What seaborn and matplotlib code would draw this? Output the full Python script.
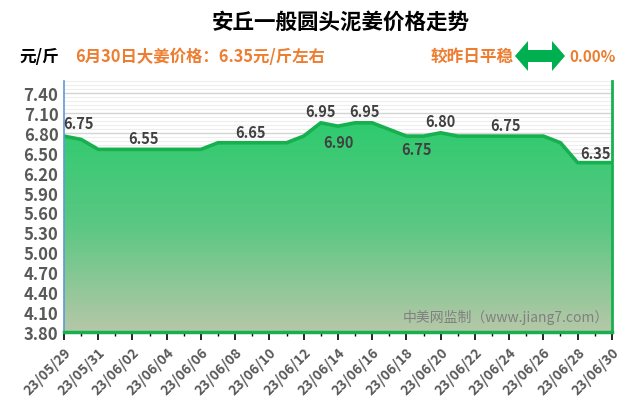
import numpy as np
import pandas as pd
import matplotlib
matplotlib.use("Agg")
import matplotlib.pyplot as plt
import seaborn as sns
from matplotlib.colors import LinearSegmentedColormap
from matplotlib.patches import Polygon

# dane: cena dzienna 23/05/29 - 23/06/30
dates = pd.date_range("2023-05-29", "2023-06-30", freq="D")
prices = [6.75, 6.70, 6.55, 6.55, 6.55, 6.55, 6.55, 6.55, 6.55, 6.65,
          6.65, 6.65, 6.65, 6.65, 6.75, 6.95, 6.90, 6.95, 6.95, 6.85,
          6.75, 6.75, 6.80, 6.75, 6.75, 6.75, 6.75, 6.75, 6.75, 6.65,
          6.35, 6.35, 6.35]
# punkty z etykietami: (indeks, przesuniecie x, przesuniecie y w px)
label_points = [(0, 14, 13), (5, -6, 11), (11, -2, 11), (15, 0, 12), (16, 1, -16),
                (17, 9, 12), (20, 10, -13), (22, 0, 12), (26, -4, 11), (31, 1, 10)]
title = "安丘一般圆头泥姜价格走势"
unit = "元/斤"
today_text = "6月30日大姜价格：6.35元/斤左右"
change_text = "较昨日平稳"
change_pct = "0.00%"
watermark = "中美网监制（www.jiang7.com）"

df = pd.DataFrame({"idx": np.arange(len(prices)), "price": prices})
df["label"] = dates.strftime("%y/%m/%d")

sns.set_style("white")
plt.rcParams["font.family"] = ["Noto Sans CJK SC", "DejaVu Sans"]

fig = plt.figure(figsize=(6.4, 4.1), dpi=100)
ax = fig.add_axes([0.1, 0.188, 0.856, 0.612])

ymin, ymax = 3.80, 7.58
ax.set_ylim(ymin, ymax)
ax.set_xlim(0, len(prices) - 1)

# gradient pod linia
poly = ax.fill_between(df["idx"], df["price"], ymin, color="none")
cmap = LinearSegmentedColormap.from_list("g", ["#b6c8a8", "#5cc783", "#2ecb6e"])
grad = np.linspace(0, 1, 256).reshape(-1, 1)
im = ax.imshow(grad, aspect="auto", cmap=cmap, origin="lower",
               extent=[0, len(prices) - 1, ymin, max(prices)], zorder=2)
path = poly.get_paths()[0]
clip = Polygon(path.vertices, closed=True, transform=ax.transData)
im.set_clip_path(clip)

sns.lineplot(data=df, x="idx", y="price", ax=ax, color="#17b04f", linewidth=2.6, zorder=3)

# siatka
ax.set_yticks(np.round(np.arange(3.80, 7.41, 0.30), 2))
ax.set_yticks(np.arange(3.80, 7.59, 0.06), minor=True)
ax.grid(axis="y", which="major", color="#d4d4d4", linewidth=1.0, zorder=0)
ax.grid(axis="y", which="minor", color="#eeeeee", linewidth=0.8, zorder=0)
ax.set_yticklabels([f"{v:.2f}" for v in ax.get_yticks()], fontsize=12,
                   fontweight="bold", color="#595959")
ax.tick_params(axis="y", which="both", length=0, pad=4)

ax.set_xticks(df["idx"][::2])
ax.set_xticks(df["idx"], minor=True)
ax.set_xticklabels(df["label"][::2], rotation=45, ha="right", rotation_mode="anchor",
                   fontsize=10, fontweight="bold", color="#595959")
ax.tick_params(axis="x", which="major", direction="out", length=6, width=1.2,
               color="black", bottom=True, pad=3)
ax.tick_params(axis="x", which="minor", direction="out", length=3, width=1.0,
               color="black", bottom=True)
ax.set_xlabel("")
ax.set_ylabel("")

ax.spines["top"].set_visible(False)
ax.spines["left"].set_color("#5b9bd5")
ax.spines["left"].set_linewidth(1.2)
ax.spines["right"].set_color("#17b04f")
ax.spines["right"].set_linewidth(2.0)
ax.spines["bottom"].set_color("#17b04f")
ax.spines["bottom"].set_linewidth(2.5)
for s in ax.spines.values():
    s.set_zorder(5)

# etykiety danych
for i, dx, dy in label_points:
    ax.annotate(f"{prices[i]:.2f}", xy=(i, prices[i]), xytext=(dx, dy),
                textcoords="offset pixels", ha="center", va="center",
                fontsize=10.5, fontweight="bold", color="#404040", zorder=6)

ax.text(0.995, 0.06, watermark, transform=ax.transAxes, ha="right", va="center",
        fontsize=10, color="#808080", zorder=6)

# naglowek
fig.text(0.533, 0.945, title, ha="center", va="center", fontsize=15.5,
         fontweight="bold", color="black")
fig.text(0.031, 0.862, unit, ha="left", va="center", fontsize=12,
         fontweight="bold", color="black")
fig.text(0.117, 0.862, today_text, ha="left", va="center", fontsize=11.8,
         fontweight="bold", color="#ed7d31")
fig.text(0.672, 0.862, change_text, ha="left", va="center", fontsize=12,
         fontweight="bold", color="#ed7d31")
fig.text(0.890, 0.862, change_pct, ha="left", va="center", fontsize=11,
         fontweight="bold", color="#ed7d31")

# strzalka dwukierunkowa
x0, x1, yc = 515, 565, 57
head, hh, sh = 13, 15, 6
arrow_px = [(x0, yc), (x0 + head, yc - hh), (x0 + head, yc - sh), (x1 - head, yc - sh),
            (x1 - head, yc - hh), (x1, yc), (x1 - head, yc + hh), (x1 - head, yc + sh),
            (x0 + head, yc + sh), (x0 + head, yc + hh)]
arrow_fig = [(px / 640, 1 - py / 410) for px, py in arrow_px]
fig.patches.append(Polygon(arrow_fig, closed=True, transform=fig.transFigure,
                           facecolor="#00b050", edgecolor="none"))

fig.savefig("out.png", dpi=100)
